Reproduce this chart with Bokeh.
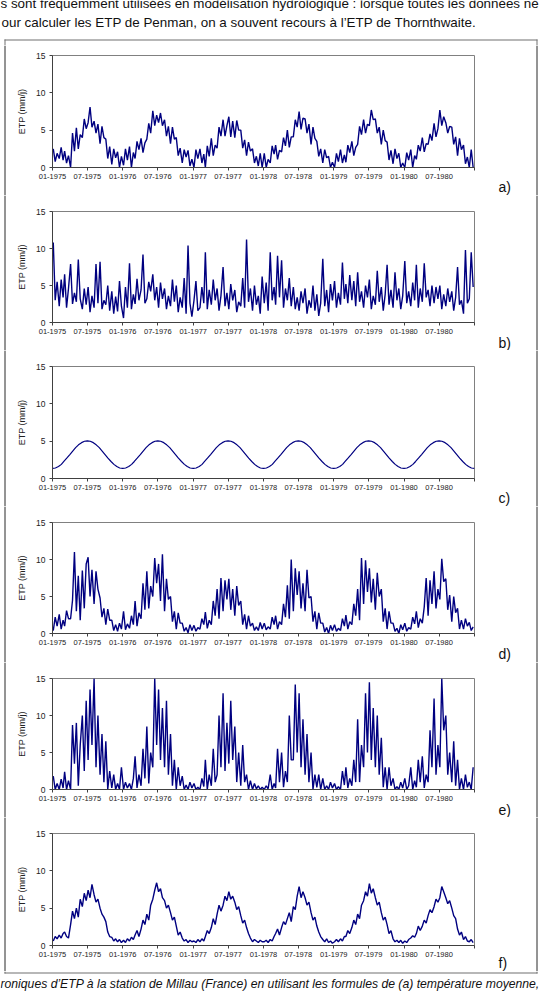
import pandas as pd
from bokeh.plotting import figure
from bokeh.models import Range1d, FixedTicker, Label, BoxAnnotation, Span
from bokeh.layouts import column, row
from bokeh.embed import file_html
from bokeh.resources import INLINE

YEARS = [1975, 1976, 1977, 1978, 1979, 1980]
tick_labels = ["01-1975", "07-1975", "01-1976", "07-1976", "01-1977", "07-1977",
               "01-1978", "07-1978", "01-1979", "07-1979", "01-1980", "07-1980", ""]
y_ticks = [0, 5, 10, 15]
panel_letters = ["a)", "b)", "c)", "d)", "e)", "f)"]
y_label = "ETP (mm/j)"

# (a) temperature-based formula, 3 values per month (dekads)
etp_a = [
    2.5, 0.8, 1.9, 1.2, 2.7, 1.0, 2.2, 0.6, 1.6, 0.0, 4.6, 2.2, 5.3, 2.5, 4.4, 4.0, 6.5, 5.2,
    6.0, 8.1, 5.4, 6.2, 4.6, 5.8, 3.2, 5.5, 4.0, 3.8, 1.2, 2.8, 0.4, 2.5, 1.3, 2.1, 0.0, 1.5,
    0.3, 2.5, 1.0, 2.8, 0.0, 2.0, 1.2, 3.5, 2.4, 3.9, 2.0, 3.3, 3.8, 5.9, 4.6, 7.6, 5.6, 7.0,
    6.0, 7.3, 5.6, 6.4, 4.2, 5.5, 3.2, 5.4, 3.8, 4.0, 1.6, 2.6, 0.6, 2.4, 1.4, 2.3, 0.2, 1.1,
    0.0, 2.4, 1.2, 2.5, 0.6, 1.8, 0.0, 2.9, 1.5, 3.9, 1.6, 3.0, 2.6, 5.4, 4.2, 6.4, 4.2, 5.6,
    6.8, 4.1, 6.2, 4.0, 6.3, 5.0, 5.0, 2.6, 3.7, 1.6, 3.4, 2.2, 2.5, 0.6, 1.5, 0.2, 1.9, 0.0,
    1.9, 0.0, 1.1, 0.6, 2.9, 1.8, 3.0, 1.1, 2.3, 2.1, 4.0, 2.9, 5.0, 2.7, 4.1, 4.1, 6.4, 5.4,
    7.5, 5.1, 6.6, 6.5, 4.6, 5.8, 3.1, 5.4, 3.9, 3.5, 1.5, 2.5, 0.6, 2.4, 1.3, 1.5, 0.0, 0.7,
    0.0, 1.9, 0.8, 2.4, 0.6, 1.7, 0.7, 3.0, 2.0, 3.5, 1.6, 2.7, 3.1, 5.5, 4.4, 6.4, 4.6, 5.8,
    5.6, 7.7, 6.4, 6.5, 4.6, 5.4, 3.1, 5.0, 3.6, 3.4, 1.0, 2.3, 0.5, 2.5, 1.2, 1.9, 0.0, 0.6,
    0.0, 2.0, 1.0, 2.4, 0.0, 1.6, 1.1, 3.0, 2.2, 4.0, 2.1, 3.2, 3.1, 4.5, 3.6, 5.9, 4.1, 5.2,
    7.7, 5.6, 6.8, 6.0, 4.6, 5.5, 5.4, 3.1, 4.1, 1.6, 3.9, 2.4, 3.0, 0.5, 1.4, 0.0, 2.4, 0.0,
]

# (b)
etp_b = [
    10.8, 3.0, 5.5, 2.2, 5.8, 3.4, 6.5, 2.0, 4.6, 7.9, 2.5, 4.0, 2.8, 8.5, 3.2, 1.8, 4.6, 2.4,
    4.8, 1.4, 3.6, 2.0, 7.9, 2.6, 8.2, 1.8, 3.0, 2.4, 5.0, 1.6, 4.2, 1.2, 3.5, 1.5, 5.6, 2.2,
    0.6, 4.8, 2.0, 8.0, 1.8, 3.8, 2.5, 5.9, 3.0, 4.4, 9.2, 2.6, 3.2, 5.5, 4.2, 6.5, 3.0, 4.8,
    2.0, 5.4, 3.2, 4.6, 1.8, 3.6, 2.2, 5.8, 2.8, 5.0, 1.4, 3.4, 2.0, 6.0, 1.2, 10.4, 2.6, 0.8,
    3.0, 5.6, 1.6, 2.0, 4.8, 2.6, 9.5, 1.8, 4.4, 2.4, 5.8, 3.0, 4.6, 1.6, 3.6, 7.5, 2.2, 4.0,
    1.8, 5.2, 3.0, 4.4, 1.4, 2.8, 2.2, 6.0, 2.0, 11.2, 2.8, 4.6, 1.6, 5.0, 2.4, 3.6, 1.2, 6.2,
    2.6, 5.4, 1.6, 9.5, 3.0, 4.8, 2.4, 9.0, 3.4, 8.4, 2.0, 4.6, 3.0, 6.0, 2.2, 4.8, 1.8, 3.4,
    1.6, 4.2, 2.6, 4.6, 1.2, 3.0, 2.0, 5.0, 1.6, 3.8, 0.9, 2.6, 8.6, 2.2, 4.4, 1.4, 5.2, 3.0,
    5.6, 2.0, 4.0, 2.4, 8.1, 3.2, 5.2, 2.6, 6.4, 3.0, 5.6, 2.2, 6.8, 2.8, 4.2, 2.0, 5.0, 3.4,
    5.8, 1.8, 3.6, 2.4, 7.0, 2.8, 4.8, 1.6, 3.8, 7.8, 2.4, 4.4, 2.0, 6.8, 3.0, 4.6, 1.8, 3.6,
    8.3, 2.6, 4.2, 2.2, 5.4, 3.0, 7.8, 2.0, 4.6, 2.8, 8.0, 3.4, 4.4, 2.2, 5.0, 2.6, 4.8, 3.2,
    5.0, 1.8, 3.8, 2.2, 4.6, 2.8, 4.2, 1.6, 3.4, 7.5, 2.4, 3.0, 1.2, 9.8, 2.6, 3.2, 9.5, 4.8,
]

# (c) smooth annual cycle, values on the 1st and 16th of each month
etp_c = [
    1.35, 1.41, 1.60, 1.89, 2.28, 2.72, 3.20, 3.68, 4.13, 4.51, 4.80, 4.99,
    5.05, 4.99, 4.80, 4.51, 4.13, 3.68, 3.20, 2.72, 2.28, 1.89, 1.60, 1.41,
    1.35, 1.41, 1.60, 1.89, 2.28, 2.72, 3.20, 3.68, 4.13, 4.51, 4.80, 4.99,
    5.05, 4.99, 4.80, 4.51, 4.13, 3.68, 3.20, 2.72, 2.28, 1.89, 1.60, 1.41,
    1.35, 1.41, 1.60, 1.89, 2.28, 2.72, 3.20, 3.68, 4.13, 4.51, 4.80, 4.99,
    5.05, 4.99, 4.80, 4.51, 4.13, 3.68, 3.20, 2.72, 2.28, 1.89, 1.60, 1.41,
    1.35, 1.41, 1.60, 1.89, 2.28, 2.72, 3.20, 3.68, 4.13, 4.51, 4.80, 4.99,
    5.05, 4.99, 4.80, 4.51, 4.13, 3.68, 3.20, 2.72, 2.28, 1.89, 1.60, 1.41,
    1.35, 1.41, 1.60, 1.89, 2.28, 2.72, 3.20, 3.68, 4.13, 4.51, 4.80, 4.99,
    5.05, 4.99, 4.80, 4.51, 4.13, 3.68, 3.20, 2.72, 2.28, 1.89, 1.60, 1.41,
    1.35, 1.41, 1.60, 1.89, 2.28, 2.72, 3.20, 3.68, 4.13, 4.51, 4.80, 4.99,
    5.05, 4.99, 4.80, 4.51, 4.13, 3.68, 3.20, 2.72, 2.28, 1.89, 1.60, 1.41,
    1.35,
]

# (d)
etp_d = [
    0.4, 2.2, 1.0, 2.6, 0.6, 1.8, 1.0, 3.1, 2.0, 2.0, 4.5, 11.0, 3.0, 7.8, 1.8, 8.5, 3.4, 9.4,
    10.3, 5.0, 8.6, 4.0, 8.4, 6.0, 4.8, 2.2, 3.4, 1.2, 3.3, 1.8, 1.8, 0.4, 1.2, 0.3, 1.4, 0.6,
    3.0, 0.5, 1.3, 0.7, 2.4, 1.2, 4.4, 1.0, 2.8, 2.0, 6.8, 3.2, 8.4, 3.4, 6.4, 5.0, 10.2, 6.8,
    9.4, 4.4, 10.7, 3.0, 7.4, 4.6, 5.0, 1.6, 3.0, 0.6, 2.8, 1.4, 1.4, 0.3, 0.8, 0.1, 1.2, 0.4,
    1.1, 0.3, 0.8, 0.6, 2.0, 1.2, 2.9, 0.7, 1.8, 1.2, 4.4, 2.4, 6.0, 2.0, 7.5, 3.0, 7.2, 4.6,
    7.4, 3.2, 6.0, 2.4, 6.4, 3.8, 4.4, 1.2, 2.6, 0.6, 2.4, 1.0, 1.4, 0.4, 0.9, 0.4, 1.5, 0.6,
    1.4, 0.5, 0.9, 0.6, 2.2, 1.2, 2.4, 0.6, 1.6, 1.2, 4.0, 2.2, 6.5, 2.0, 10.0, 3.0, 8.8, 5.2,
    8.4, 3.4, 6.8, 3.0, 8.6, 4.8, 5.0, 1.6, 3.0, 0.6, 2.8, 1.4, 1.4, 0.2, 0.8, 0.0, 1.1, 0.4,
    1.2, 0.3, 0.7, 0.4, 2.0, 1.0, 2.5, 0.6, 1.6, 1.2, 4.0, 2.4, 6.0, 1.8, 10.2, 4.0, 9.9, 5.6,
    8.8, 4.2, 7.4, 3.2, 8.2, 5.0, 6.0, 1.6, 3.4, 0.6, 3.0, 1.4, 1.4, 0.3, 0.7, 0.0, 1.2, 0.5,
    1.4, 0.3, 0.8, 0.6, 2.2, 1.3, 3.0, 0.8, 2.0, 1.4, 3.6, 7.5, 2.4, 7.2, 4.0, 8.4, 3.4, 6.0,
    4.6, 10.1, 7.0, 7.4, 3.2, 5.2, 1.6, 5.0, 2.8, 3.4, 0.6, 1.8, 0.6, 2.0, 1.0, 1.5, 0.4, 0.9,
]

# (e)
etp_e = [
    1.8, 0.0, 0.8, 0.0, 1.4, 0.2, 2.4, 0.0, 1.2, 0.0, 8.7, 3.5, 9.0, 0.5, 6.0, 10.0, 2.5, 12.0,
    4.0, 13.5, 6.0, 15.0, 3.0, 10.0, 2.0, 7.5, 1.0, 6.5, 0.0, 2.5, 0.2, 2.0, 0.0, 0.8, 0.0, 3.0,
    0.0, 1.0, 0.2, 0.8, 0.0, 1.5, 4.5, 0.2, 2.0, 0.5, 5.5, 1.5, 8.5, 0.8, 5.0, 3.0, 15.0, 6.0,
    13.5, 4.0, 11.0, 3.0, 12.0, 2.0, 7.5, 0.5, 4.0, 0.0, 3.0, 0.5, 1.8, 0.0, 0.6, 0.0, 1.0, 0.2,
    0.8, 0.0, 0.3, 0.0, 1.5, 0.4, 4.0, 0.0, 2.0, 0.5, 5.5, 1.0, 2.0, 10.0, 3.0, 13.0, 2.5, 9.0,
    3.5, 12.0, 4.0, 8.5, 1.0, 5.0, 0.5, 6.0, 1.0, 2.0, 0.0, 1.2, 0.0, 0.8, 0.1, 0.5, 0.0, 0.3,
    0.0, 0.5, 0.1, 2.0, 0.0, 0.8, 0.2, 5.5, 1.0, 5.0, 0.3, 2.5, 1.0, 10.0, 4.0, 4.0, 14.2, 5.0,
    13.0, 3.0, 9.5, 2.0, 7.5, 1.0, 5.0, 0.0, 2.0, 0.3, 2.0, 0.0, 1.5, 0.0, 0.5, 0.0, 1.0, 0.2,
    0.8, 0.0, 0.4, 0.0, 2.5, 0.6, 3.0, 0.2, 1.5, 0.5, 4.0, 1.0, 9.5, 1.0, 6.0, 3.0, 13.0, 5.0,
    14.5, 4.0, 11.0, 3.0, 10.0, 2.0, 7.0, 0.3, 3.0, 0.0, 3.0, 0.5, 1.5, 0.0, 0.4, 0.0, 1.0, 0.2,
    1.5, 0.0, 0.5, 3.0, 0.0, 1.2, 0.3, 4.0, 1.0, 4.5, 0.2, 2.0, 1.0, 8.0, 3.0, 12.3, 2.0, 6.0,
    3.0, 15.0, 8.0, 10.0, 2.0, 5.0, 1.0, 6.5, 0.5, 4.0, 0.0, 1.5, 0.0, 2.0, 0.3, 1.0, 0.0, 3.0,
]

# (f)
etp_f = [
    0.6, 1.2, 0.9, 1.4, 1.0, 1.6, 1.8, 1.2, 1.0, 2.8, 4.6, 3.6, 5.0, 3.8, 6.2, 5.2, 7.0, 6.0,
    7.4, 6.4, 8.2, 6.8, 5.8, 6.2, 5.0, 4.2, 3.8, 3.2, 1.8, 1.2, 1.1, 0.6, 0.9, 0.5, 0.8, 0.4,
    0.7, 0.4, 0.9, 0.6, 1.1, 0.8, 1.4, 2.0, 1.2, 2.2, 3.4, 2.8, 4.2, 3.4, 5.4, 6.2, 7.4, 8.4,
    7.2, 7.6, 6.4, 6.0, 5.0, 5.4, 4.4, 3.4, 3.8, 2.6, 1.4, 1.8, 1.0, 0.6, 0.8, 0.4, 0.7, 0.5,
    0.6, 0.4, 0.8, 0.5, 0.9, 0.6, 1.2, 2.0, 1.6, 2.4, 3.6, 2.8, 4.2, 5.4, 4.6, 5.4, 6.6, 6.0,
    7.2, 6.2, 6.6, 5.8, 4.8, 5.2, 4.0, 3.0, 3.4, 2.4, 1.6, 1.0, 0.5, 0.8, 0.6, 0.4, 0.7, 0.5,
    0.5, 0.7, 0.4, 0.8, 0.6, 1.2, 1.6, 2.2, 1.4, 2.4, 3.2, 2.8, 3.6, 4.4, 3.2, 5.2, 4.8, 6.6,
    7.9, 6.4, 7.2, 6.4, 5.4, 5.8, 4.4, 3.4, 3.8, 2.6, 1.8, 1.2, 0.8, 0.5, 0.9, 0.4, 0.6, 0.3,
    0.5, 0.8, 0.5, 0.9, 0.6, 1.2, 1.2, 2.0, 1.6, 2.4, 3.4, 2.8, 4.2, 3.6, 5.4, 6.0, 7.2, 6.6,
    8.3, 7.0, 7.6, 6.4, 5.4, 5.8, 4.4, 3.4, 3.8, 2.8, 1.6, 2.0, 0.9, 0.5, 0.7, 0.4, 0.7, 0.3,
    0.6, 0.4, 0.8, 1.0, 1.3, 1.1, 1.6, 2.6, 2.0, 2.6, 3.4, 3.0, 4.0, 4.8, 4.4, 5.2, 6.2, 5.8,
    6.4, 7.9, 7.2, 6.4, 5.6, 6.0, 5.0, 4.0, 3.6, 2.2, 1.4, 1.8, 0.8, 1.2, 0.6, 0.5, 0.8, 0.4,
]

top_line_1 = "s sont fréquemment utilisées en modélisation hydrologique : lorsque toutes les données né"
top_line_2 = "our calculer les ETP de Penman, on a souvent recours à l’ETP de Thornthwaite."
caption = "roniques d’ETP à la station de Millau (France) en utilisant les formules de (a) température moyenne,"

# dates
dekad_dates = [pd.Timestamp(y, m, d) for y in YEARS for m in range(1, 13) for d in (5, 15, 25)]
half_month_dates = [pd.Timestamp(y, m, d) for y in YEARS for m in range(1, 13) for d in (1, 16)] + [pd.Timestamp(1981, 1, 1)]
tick_dates = [pd.Timestamp(y, m, 1) for y in YEARS for m in (1, 7)] + [pd.Timestamp(1981, 1, 1)]
tick_ms = [t.value // 10**6 for t in tick_dates]
x_start = pd.Timestamp(1975, 1, 1)
x_end = pd.Timestamp(1981, 1, 1)

FONT = "Liberation Sans"
LINE = "#000080"
TXT = "#111111"
BOX_COLOR = "#707070"
W = 545
LEFT_W = 8            # left strip (holds the box's left edge)
RIGHT_X = 480         # right strip starts here (holds letters and the box's right edge)
FRAME_L, FRAME_R = 52, 474
TEXT_SHIFT = 4.5      # labels render this much below the requested baseline
BOX_L, BOX_R, BOX_T, BOX_B = 4, 536, 39, 972
# outer box edges as page rectangles (x0, x1, y0, y1)
BOX_EDGES = [(BOX_L, BOX_R + 1, BOX_T, BOX_T + 1), (BOX_L, BOX_R + 1, BOX_B, BOX_B + 1),
             (BOX_L, BOX_L + 1, BOX_T, BOX_B + 1), (BOX_R, BOX_R + 1, BOX_T, BOX_B + 1)]

HEADER_H = 45
# rows in page pixels: (row_top, row_bottom, frame_top, frame_bottom)
geom = [
    (45, 195, 55, 167),
    (195, 350, 211, 322),
    (350, 506, 366, 478),
    (506, 662, 522, 633),
    (662, 817, 678, 789),
    (817, 971, 833, 945),
]
FOOTER_TOP = 971
letter_baseline = [191, 347, 502, 658, 814, 967]
series = [(etp_a, dekad_dates), (etp_b, dekad_dates), (etp_c, half_month_dates),
          (etp_d, dekad_dates), (etp_e, dekad_dates), (etp_f, dekad_dates)]
line_widths = [1.4, 1.4, 1.2, 1.4, 1.4, 1.4]


def deco(width, height, left, top):
    """Blank canvas (frame fills it, data units = pixels) with its share of the outer box."""
    p = figure(width=width, height=height, output_backend="svg", toolbar_location=None,
               x_range=Range1d(0, width), y_range=Range1d(0, height),
               x_axis_location=None, y_axis_location=None,
               min_border=0, min_border_left=0, min_border_right=0,
               min_border_top=0, min_border_bottom=0)
    p.grid.visible = False
    p.outline_line_color = None
    p.background_fill_color = "white"
    p.border_fill_color = "white"
    for (x0, x1, y0, y1) in BOX_EDGES:
        cx0, cx1 = max(x0, left), min(x1, left + width)
        cy0, cy1 = max(y0, top), min(y1, top + height)
        if cx1 > cx0 and cy1 > cy0:
            p.add_layout(BoxAnnotation(left=cx0 - left, right=cx1 - left,
                                       top=height - (cy0 - top), bottom=height - (cy1 - top),
                                       fill_color=BOX_COLOR, fill_alpha=1.0,
                                       line_color=None))
    # vertical box edges also as spans across the whole strip height
    for bx in (BOX_L, BOX_R):
        if left <= bx < left + width and top >= BOX_T and top + height <= BOX_B + 1:
            p.add_layout(Span(location=bx - left + 0.5, dimension="height",
                              line_color=BOX_COLOR, line_width=1))
    return p


def put_text(p, text, px, py, left, top, height, size, style="normal"):
    p.add_layout(Label(x=px - left, y=height - (py - TEXT_SHIFT - top),
                       text=text, text_font=FONT, text_font_size=size,
                       text_font_style=style, text_baseline="alphabetic",
                       text_align="left", text_color=TXT))


rows = []

header = deco(W, HEADER_H, 0, 0)
put_text(header, top_line_1, 0, 7, 0, 0, HEADER_H, "13.4px")
put_text(header, top_line_2, 1, 26.5, 0, 0, HEADER_H, "13.4px")
rows.append(header)

for i, ((vals, dates), (rt, rb, frt, frb)) in enumerate(zip(series, geom)):
    h = rb - rt
    pw = RIGHT_X - LEFT_W
    p = figure(width=pw, height=h, output_backend="svg", toolbar_location=None,
               x_axis_type="datetime",
               x_range=Range1d(x_start, x_end), y_range=Range1d(0, 15),
               min_border_left=FRAME_L - LEFT_W, min_border_right=RIGHT_X - FRAME_R,
               min_border_top=frt - rt, min_border_bottom=rb - frb)
    p.background_fill_color = "white"
    p.border_fill_color = "white"
    p.outline_line_color = "#808080"
    p.outline_line_width = 1
    p.xgrid.visible = False
    p.ygrid.visible = False
    p.line(dates, vals, line_color=LINE, line_width=line_widths[i])

    p.xaxis.ticker = FixedTicker(ticks=tick_ms)
    p.xaxis.major_label_overrides = {t: lab for t, lab in zip(tick_ms, tick_labels)}
    p.yaxis.ticker = FixedTicker(ticks=y_ticks)
    p.yaxis.axis_label = y_label
    for ax in (p.xaxis[0], p.yaxis[0]):
        ax.axis_line_color = "#404040"
        ax.major_tick_line_color = "#404040"
        ax.minor_tick_line_color = None
        ax.major_tick_out = 3
        ax.major_tick_in = 0
        ax.major_label_text_font = FONT
        ax.major_label_text_color = "#222222"
    p.xaxis.major_label_text_font_size = "7.5px"
    p.xaxis.major_label_standoff = 3
    p.yaxis.major_label_text_font_size = "8.5px"
    p.yaxis.major_label_standoff = 4
    p.yaxis.axis_label_text_font = FONT
    p.yaxis.axis_label_text_font_size = "9px"
    p.yaxis.axis_label_text_font_style = "normal"
    p.yaxis.axis_label_text_color = "#222222"
    p.yaxis.axis_label_standoff = 6

    left_strip = deco(LEFT_W, h, 0, rt)
    right_strip = deco(W - RIGHT_X, h, RIGHT_X, rt)
    put_text(right_strip, panel_letters[i], 498, letter_baseline[i], RIGHT_X, rt, h, "14px")
    # strips wrapped in their own columns so their frames are not aligned to the chart's
    rows.append(row(column(left_strip), p, column(right_strip), spacing=0))

FOOTER_H = 995 - FOOTER_TOP
footer = deco(W, FOOTER_H, 0, FOOTER_TOP)
put_text(footer, caption, 0, 988, 0, FOOTER_TOP, FOOTER_H, "12.2px", style="italic")
rows.append(footer)

layout = column(*rows, spacing=0)
open("out.html", "w").write(file_html(layout, INLINE))
